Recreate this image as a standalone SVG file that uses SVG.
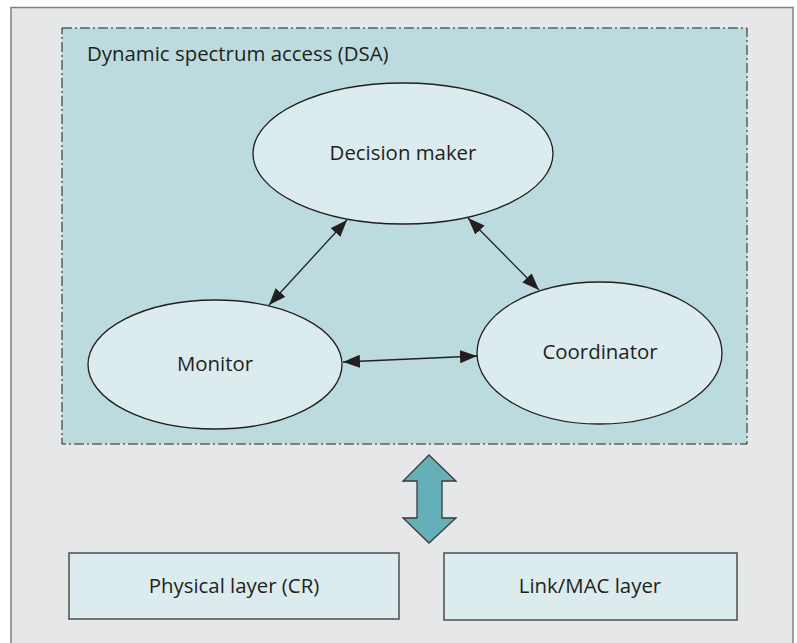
<svg xmlns="http://www.w3.org/2000/svg" width="797" height="643" viewBox="0 0 797 643">
  <style>
    .lbl { font-family: "Open Sans", "Noto Sans", "Liberation Sans", sans-serif; font-size: 20.4px; fill: #231f20; }
    .node { fill: #dcebee; stroke: #231f20; stroke-width: 1.3; }
    .box { fill: #dcebee; stroke: #4d4d4d; stroke-width: 1.5; }
    .conn { stroke: #231f20; stroke-width: 1.3; fill: none; marker-start: url(#head); marker-end: url(#head); }
  </style>
  <defs>
    <marker id="head" viewBox="0 0 17 13" refX="17" refY="6.5" markerWidth="17" markerHeight="13" markerUnits="userSpaceOnUse" orient="auto-start-reverse">
      <path d="M0,0 L17,6.5 L0,13 Z" fill="#231f20"/>
    </marker>
  </defs>

  <!-- outer frame -->
  <rect x="11" y="7.5" width="782" height="645" fill="#e6e7e8" stroke="#808080" stroke-width="1.5"/>

  <!-- DSA region -->
  <g id="dsa">
    <rect x="62" y="28" width="685" height="416" fill="#bbdbde" stroke="#231f20" stroke-width="1" stroke-dasharray="10,3,2,3"/>
    <text class="lbl" x="87" y="61">Dynamic spectrum access (DSA)</text>
  </g>

  <g id="decision-maker">
    <ellipse class="node" cx="403" cy="153.5" rx="150" ry="70.5"/>
    <text class="lbl" x="403" y="160" text-anchor="middle">Decision maker</text>
  </g>

  <g id="monitor">
    <ellipse class="node" cx="215" cy="364.5" rx="127" ry="64.5"/>
    <text class="lbl" x="215" y="371" text-anchor="middle">Monitor</text>
  </g>

  <g id="coordinator">
    <ellipse class="node" cx="599.5" cy="353" rx="122.5" ry="71"/>
    <text class="lbl" x="600" y="359" text-anchor="middle">Coordinator</text>
  </g>

  <g id="connectors">
    <line class="conn" x1="347" y1="220" x2="269" y2="305"/>
    <line class="conn" x1="468" y1="218" x2="539" y2="290"/>
    <line class="conn" x1="343" y1="362" x2="477" y2="356"/>
  </g>

  <!-- two-way interface arrow -->
  <g id="interface-arrow">
    <path d="M429,455 L456,481 L442,481 L442,518 L456,518 L429,543 L403,518 L417,518 L417,481 L403,481 Z" fill="#65b0b8" stroke="#3a3a3a" stroke-width="1.3" stroke-linejoin="miter"/>
  </g>

  <g id="physical-layer">
    <rect class="box" x="69" y="553" width="330" height="66"/>
    <text class="lbl" x="234" y="593" text-anchor="middle">Physical layer (CR)</text>
  </g>

  <g id="link-mac-layer">
    <rect class="box" x="444" y="553" width="293" height="67"/>
    <text class="lbl" x="590" y="593" text-anchor="middle">Link/MAC layer</text>
  </g>
</svg>
